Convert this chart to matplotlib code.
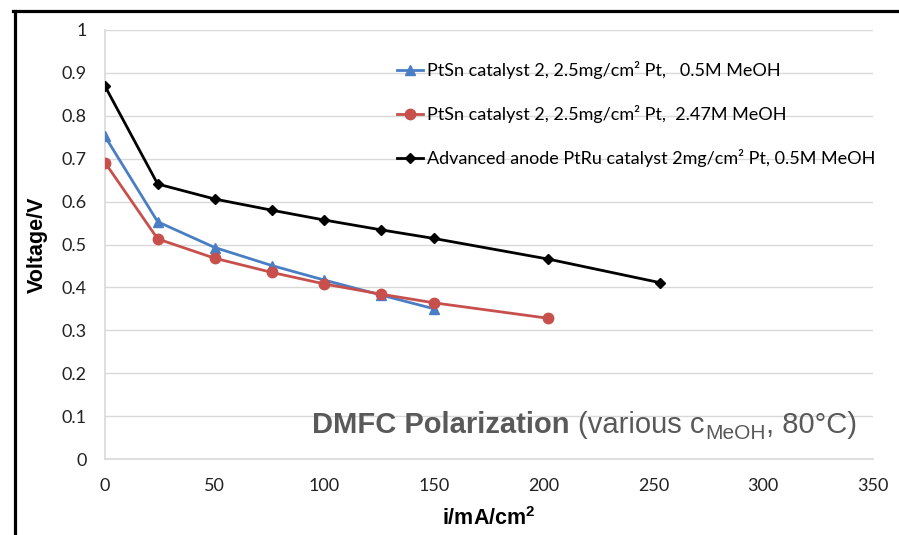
import matplotlib
matplotlib.use("Agg")
import matplotlib.pyplot as plt
from matplotlib.lines import Line2D

# Polarization data: current density (mA/cm²) vs. cell voltage (V)
i_ptsn_05 = [0, 24, 50, 76, 100, 126, 150]
v_ptsn_05 = [0.752, 0.553, 0.493, 0.451, 0.417, 0.382, 0.350]

i_ptsn_247 = [0, 24, 50, 76, 100, 126, 150, 202]
v_ptsn_247 = [0.691, 0.513, 0.468, 0.435, 0.408, 0.384, 0.364, 0.328]

i_ptru = [0, 24, 50, 76, 100, 126, 150, 202, 253]
v_ptru = [0.869, 0.641, 0.606, 0.580, 0.557, 0.534, 0.514, 0.466, 0.411]

labels = [
    "PtSn catalyst 2, 2.5mg/cm² Pt,   0.5M MeOH",
    "PtSn catalyst 2, 2.5mg/cm² Pt,  2.47M MeOH",
    "Advanced anode PtRu catalyst 2mg/cm² Pt, 0.5M MeOH",
]
x_ticks = [0, 50, 100, 150, 200, 250, 300, 350]
y_ticks = [0, 0.1, 0.2, 0.3, 0.4, 0.5, 0.6, 0.7, 0.8, 0.9, 1]

plt.rcParams["mathtext.fontset"] = "custom"
plt.rcParams["mathtext.rm"] = "Liberation Sans"
plt.rcParams["mathtext.bf"] = "Liberation Sans:bold"

W, H = 899, 535
fig = plt.figure(figsize=(W / 100, H / 100), dpi=100)
ax = fig.add_axes([105 / W, 1 - 459 / H, (873 - 105) / W, (459 - 30) / H])

grid_c = "#D9D9D9"
ax.plot(i_ptsn_05, v_ptsn_05, color="#4A7EC4", lw=2, marker="^", ms=7.5,
        label=labels[0], zorder=3)
ax.plot(i_ptsn_247, v_ptsn_247, color="#C8504C", lw=2, marker="o", ms=7.5,
        label=labels[1], zorder=3)
ax.plot(i_ptru, v_ptru, color="black", lw=2, marker="D", ms=5.5,
        label=labels[2], zorder=4)

ax.set_xlim(0, 350)
ax.set_ylim(0, 1)
ax.set_xticks(x_ticks)
ax.set_yticks(y_ticks)
ax.set_yticklabels([f"{v:g}" for v in y_ticks])
ax.grid(axis="y", color=grid_c, lw=1)
ax.set_axisbelow(True)
for s in ("top", "right"):
    ax.spines[s].set_visible(False)
for s in ("left", "bottom"):
    ax.spines[s].set_color(grid_c)
    ax.spines[s].set_linewidth(1.2)
ax.tick_params(length=0, labelsize=13, labelcolor="#222222")
ax.tick_params(axis="y", pad=13)
ax.tick_params(axis="x", pad=14)
for t in ax.get_xticklabels() + ax.get_yticklabels():
    t.set_fontfamily("Lato")

ax.set_ylabel("Voltage/V", fontfamily="Liberation Sans", fontweight="bold",
              fontsize=15.5, labelpad=10)
ax.set_xlabel(r"i/mA/cm$\mathbf{^2}$", fontfamily="Liberation Sans",
              fontweight="bold", fontsize=15.5, labelpad=9)

leg = ax.legend(loc="upper left", bbox_to_anchor=(388 / W, 1 - 52 / H),
                bbox_transform=fig.transFigure, frameon=False,
                prop={"family": "Lato", "size": 13}, labelspacing=1.45,
                handlelength=1.45, handletextpad=0.2, borderpad=0)

# Chart caption: bold heading followed by regular conditions, laid out piecewise
cap_y = 1 - 433 / H
cap_kw = dict(fontfamily="Liberation Sans", fontsize=21, color="#595959",
              va="baseline")
t1 = fig.text(312 / W, cap_y, "DMFC Polarization", fontweight="bold", **cap_kw)
fig.canvas.draw()
x = t1.get_window_extent().x1 + 8
t2 = fig.text(x / W, cap_y, "(various c", **cap_kw)
fig.canvas.draw()
x = t2.get_window_extent().x1 + 1
t3 = fig.text(x / W, cap_y - 6 / H, "MeOH", fontfamily="Liberation Sans",
              fontsize=15, color="#595959", va="baseline")
fig.canvas.draw()
x = t3.get_window_extent().x1
fig.text(x / W, cap_y, ", 80°C)", **cap_kw)

# Outer frame lines along the top and left
fig.add_artist(Line2D([13 / W, 1], [1 - 10.5 / H, 1 - 10.5 / H],
                      transform=fig.transFigure, color="black", lw=2.3))
fig.add_artist(Line2D([14.5 / W, 14.5 / W], [0, 1 - 10.5 / H],
                      transform=fig.transFigure, color="black", lw=2.3))

fig.savefig("out.png", dpi=100)
